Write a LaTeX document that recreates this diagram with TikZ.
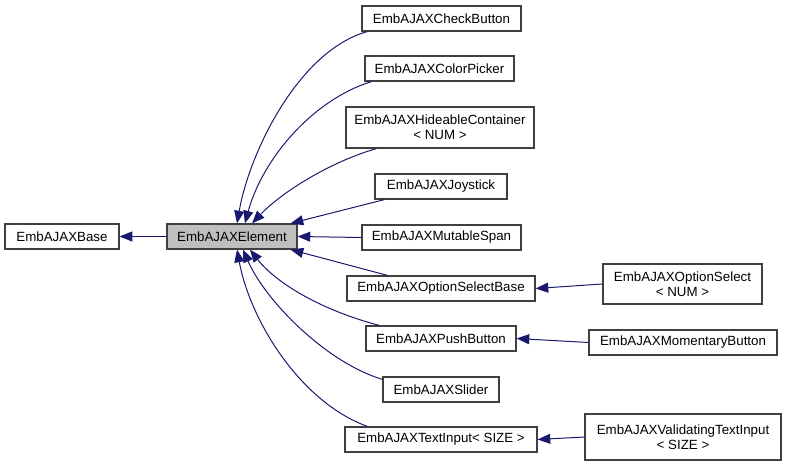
\documentclass[tikz,border=0pt]{standalone}
\usepackage{fontspec}
\setmainfont{Liberation Sans}
\usetikzlibrary{arrows.meta, calc}
\definecolor{edgeblue}{HTML}{191970}
\definecolor{boxline}{HTML}{404040}

\begin{document}
\begin{tikzpicture}[
    x=0.75pt, y=-0.75pt,
    cls/.style={draw=boxline, fill=white, line width=0.9pt, font=\fontsize{10}{11.5}\selectfont, align=center, inner sep=0pt, minimum height=#1*0.75pt},
    cls/.default=25,
    current/.style={cls, fill=black!25},
    edge/.style={draw=edgeblue, line width=0.75pt, -{Triangle[length=9.5pt,width=7.5pt]}},
]
\useasboundingbox (0,0) rectangle (785,466);

% Base classes
\node[cls, minimum width=85.5pt] (base) at (62,236.5) {EmbAJAXBase};
\node[current, minimum width=97.5pt] (elem) at (232,236.5) {EmbAJAXElement};

% Direct children of EmbAJAXElement
\node[cls, minimum width=119.25pt] (chk) at (441.5,18.5) {EmbAJAXCheckButton};
\node[cls, minimum width=111.75pt] (col) at (439.5,68.5) {EmbAJAXColorPicker};
\node[cls=41, minimum width=141pt] (hid) at (440,127.5) {EmbAJAXHideableContainer\\< NUM >};
\node[cls, minimum width=99pt] (joy) at (441,186.5) {EmbAJAXJoystick};
\node[cls, minimum width=119.25pt] (mut) at (441.5,237.5) {EmbAJAXMutableSpan};
\node[cls, minimum width=141pt] (osb) at (441,288.5) {EmbAJAXOptionSelectBase};
\node[cls, minimum width=112.5pt] (push) at (441,338.5) {EmbAJAXPushButton};
\node[cls, minimum width=87pt] (sld) at (441,389.5) {EmbAJAXSlider};
\node[cls, minimum width=144pt] (txt) at (441,439.5) {EmbAJAXTextInput< SIZE >};

% Grandchildren
\node[cls=40, minimum width=119.25pt] (os) at (682.5,284) {EmbAJAXOptionSelect\\< NUM >};
\node[cls, minimum width=141pt] (mom) at (683,342.5) {EmbAJAXMomentaryButton};
\node[cls=46, minimum width=147pt] (val) at (683,437) {EmbAJAXValidatingTextInput\\< SIZE >};

% Inheritance edges
\draw[edge] (elem.west) -- (base.east);
\draw[edge] ($(chk.south west)+(6,0)$) .. controls (300,50) and (250,150) .. ($(elem.north)+(5,0)$);
\draw[edge] ($(col.south west)+(7,0)$) .. controls (312,100) and (262,160) .. ($(elem.north)+(13,0)$);
\draw[edge] ($(hid.south west)+(31,0)$) .. controls (330,162) and (282,192) .. ($(elem.north)+(20,0)$);
\draw[edge] ($(joy.south west)+(10,0)$) -- ($(elem.north east)+(-7,0)$);
\draw[edge] (mut.west) -- (elem.east);
\draw[edge] ($(osb.north west)+(41,0)$) -- ($(elem.south east)+(-7,0)$);
\draw[edge] ($(push.north west)+(14,0)$) .. controls (320,310) and (275,282) .. ($(elem.south)+(18,0)$);
\draw[edge] ($(sld.north west)+(0,3)$) .. controls (325,362) and (265,300) .. ($(elem.south)+(11,0)$);
\draw[edge] ($(txt.north west)+(23,0)$) .. controls (300,402) and (250,320) .. ($(elem.south)+(5,0)$);
\draw[edge] (os.west) -- (osb.east);
\draw[edge] (mom.west) -- (push.east);
\draw[edge] (val.west) -- (txt.east);

\end{tikzpicture}
\end{document}
